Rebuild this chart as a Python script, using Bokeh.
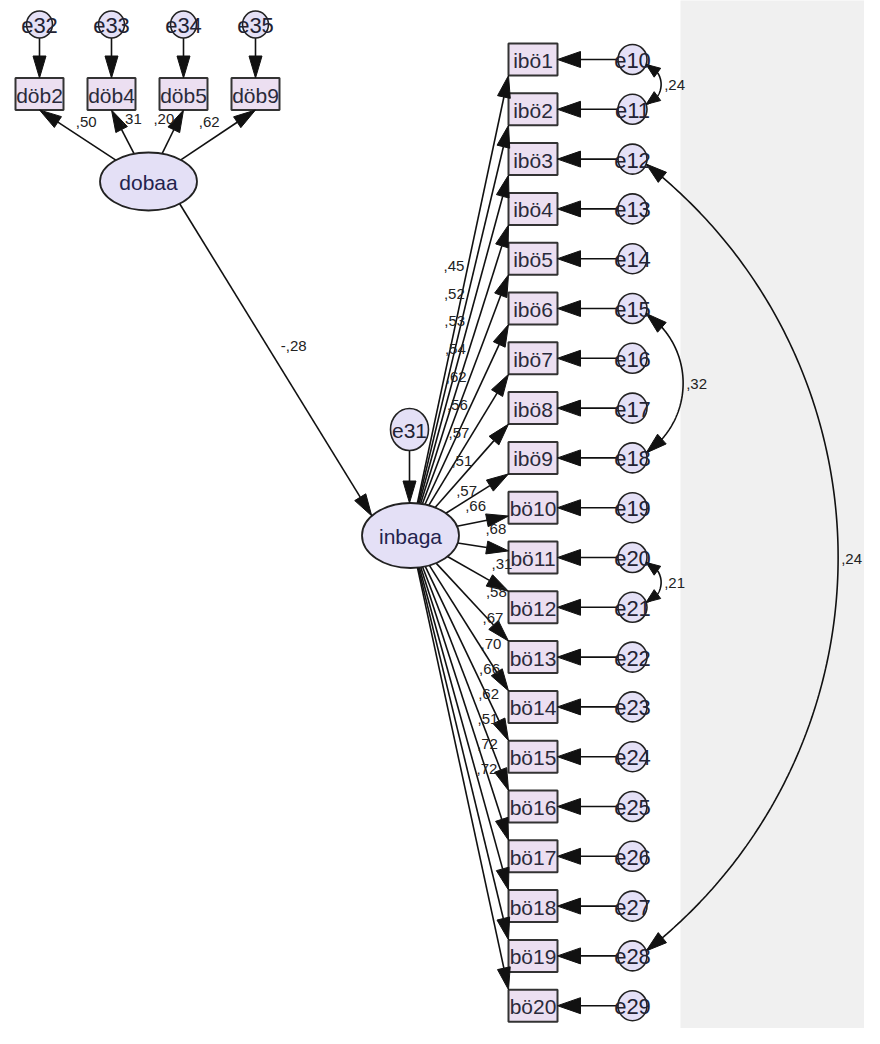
import numpy as np
from bokeh.plotting import figure
from bokeh.models import Range1d
from bokeh.embed import file_html
from bokeh.resources import INLINE
from bokeh.core.properties import value

# ---------------- data ----------------
dobaa_items = ["döb2", "döb4", "döb5", "döb9"]
dobaa_errors = ["e32", "e33", "e34", "e35"]
dobaa_loadings = [",50", ",31", ",20", ",62"]

inbaga_items = ["ibö1", "ibö2", "ibö3", "ibö4", "ibö5", "ibö6", "ibö7", "ibö8", "ibö9",
                "bö10", "bö11", "bö12", "bö13", "bö14", "bö15", "bö16", "bö17", "bö18",
                "bö19", "bö20"]
inbaga_errors = ["e10", "e11", "e12", "e13", "e14", "e15", "e16", "e17", "e18", "e19",
                 "e20", "e21", "e22", "e23", "e24", "e25", "e26", "e27", "e28", "e29"]
inbaga_loadings = [",45", ",52", ",53", ",54", ",62", ",56", ",57", ",51", ",57", ",66",
                   ",68", ",31", ",58", ",67", ",70", ",66", ",62", ",51", ",72", ",72"]

latent_names = ["dobaa", "inbaga"]
disturbance_name = "e31"
structural_label = "-,28"

cov_a = ["e10", "e15", "e20", "e12"]
cov_b = ["e11", "e18", "e21", "e28"]
cov_labels = [",24", ",32", ",21", ",24"]

# ---------------- layout / style ----------------
FONT = value("Liberation Sans")
INK = "#111111"
BOX_FILL = "#ecdff1"
OVAL_FILL = "#e4e0f6"
BOX_LINE = "#333333"

top_x0, top_dx = 39.0, 72.0
top_box_y, top_err_y = 93.5, 24.0
top_box_w, top_box_h = 48.0, 32.0
top_err_w, top_err_h = 26.0, 27.0

col_box_x, col_box_w, col_box_h = 532.5, 49.0, 32.0
col_y0, col_dy = 59.0, 49.8
col_err_x, col_err_w, col_err_h = 632.0, 29.0, 30.0

dob_c, dob_a, dob_b = np.array([148.0, 181.0]), 48.5, 29.0
inb_c, inb_a, inb_b = np.array([410.0, 535.0]), 48.5, 32.5
e31_c, e31_w, e31_h = np.array([409.0, 429.0]), 38.0, 42.0

cov_sag = {"e10": 15.0, "e15": 37.0, "e20": 15.0, "e12": 192.0}

lines_x, lines_y = [], []
heads_x, heads_y = [], []


def ell_pt(c, a, b, target):
    d = np.asarray(target, float) - c
    t = 1.0 / np.sqrt((d[0] / a) ** 2 + (d[1] / b) ** 2)
    return c + t * d


def ell_ang(c, a, b, deg):
    r = np.radians(deg)
    return c + np.array([a * np.cos(r), b * np.sin(r)])


def add_head(tip, tail, L=20.0, W=12.0):
    tip = np.asarray(tip, float)
    tail = np.asarray(tail, float)
    u = (tip - tail) / np.linalg.norm(tip - tail)
    base = tip - L * u
    n = np.array([-u[1], u[0]])
    p1 = base + n * W / 2
    p2 = base - n * W / 2
    heads_x.append([tip[0], p1[0], p2[0]])
    heads_y.append([tip[1], p1[1], p2[1]])
    return base


def add_arrow(p0, p1, L=20.0, W=12.0):
    base = add_head(p1, p0, L, W)
    lines_x.append([p0[0], base[0]])
    lines_y.append([p0[1], base[1]])


# ---------------- figure ----------------
p = figure(width=864, height=1028, x_range=Range1d(0, 864), y_range=Range1d(1028, 0),
           output_backend="svg", toolbar_location=None, min_border=0)
p.axis.visible = False
p.grid.visible = False
p.outline_line_color = None
p.background_fill_color = "white"
p.border_fill_color = "white"

p.quad(left=[680], right=[900], top=[-10], bottom=[1050], fill_color="#f0f0f0", line_color=None)

# --- dobaa block ---
top_x = [top_x0 + i * top_dx for i in range(len(dobaa_items))]
lab_tx, lab_ty = [], []
for i, x in enumerate(top_x):
    add_arrow((x, top_err_y + top_err_h / 2), (x, top_box_y - top_box_h / 2), L=22, W=13)
    tgt = np.array([x, top_box_y + top_box_h / 2])
    st = ell_pt(dob_c, dob_a, dob_b, tgt)
    add_arrow(st, tgt, L=22, W=13)
    mid = (st + tgt) / 2
    lab_tx.append(mid[0] + (8.5 if x < dob_c[0] else -9.0))
    lab_ty.append(mid[1] - 13)

# --- structural path ---
s0 = ell_ang(dob_c, dob_a, dob_b, 50)
s1 = ell_ang(inb_c, inb_a, inb_b, 217)
add_arrow(s0, s1, L=22, W=13)
smid = (s0 + s1) / 2
struct_x, struct_y = smid[0] + 18, smid[1] - 14

# --- disturbance ---
add_arrow((e31_c[0], e31_c[1] + e31_h / 2), (e31_c[0], inb_c[1] - inb_b), L=22, W=13)

# --- inbaga block ---
col_y = [col_y0 + k * col_dy for k in range(len(inbaga_items))]
box_left = col_box_x - col_box_w / 2
box_right = col_box_x + col_box_w / 2
in_lab_x, in_lab_y = [], []
for k, cy in enumerate(col_y):
    ty = cy + np.clip((inb_c[1] - cy) * 0.3, -col_box_h / 2, col_box_h / 2)
    tgt = np.array([box_left, ty])
    st = ell_pt(inb_c, inb_a, inb_b, tgt)
    add_arrow(st, tgt, L=22, W=13)
    if k < 9:
        t, off = 0.555, (-14, 0)
    elif k == 9:
        t, off = 0.4, (-2, -16)
    elif k == 10:
        t, off = 0.75, (0, -20)
    else:
        t, off = 0.5, (24, -10)
    pt = st + t * (tgt - st)
    in_lab_x.append(pt[0] + off[0])
    in_lab_y.append(pt[1] + off[1])
    add_arrow((col_err_x - col_err_w / 2, cy), (box_right, cy), L=23, W=16)

# --- covariance arcs ---
err_pos = {e: col_y[k] for k, e in enumerate(inbaga_errors)}
cov_lab_x, cov_lab_y = [], []
r_err = col_err_w / 2
for a_name, b_name in zip(cov_a, cov_b):
    ya, yb = err_pos[a_name], err_pos[b_name]
    ang = np.radians(20)
    p1 = np.array([col_err_x + r_err * np.cos(ang), ya + r_err * np.sin(ang)])
    p2 = np.array([col_err_x + r_err * np.cos(ang), yb - r_err * np.sin(ang)])
    s = cov_sag[a_name]
    c = np.linalg.norm(p2 - p1)
    u = (p2 - p1) / c
    n = np.array([u[1], -u[0]])
    R = (c * c / 4 + s * s) / (2 * s)
    m = (p1 + p2) / 2
    O = m + n * (s - R)
    a1 = np.arctan2(p1[1] - O[1], p1[0] - O[0])
    a2 = np.arctan2(p2[1] - O[1], p2[0] - O[0])
    angs = np.linspace(a1, a2, 200)
    ax = O[0] + R * np.cos(angs)
    ay = O[1] + R * np.sin(angs)
    lines_x.append(list(ax))
    lines_y.append(list(ay))
    small = s < 30
    L, W = (14, 11) if small else (21, 13)
    pts = np.column_stack([ax, ay])
    for tip, seq in ((pts[0], pts), (pts[-1], pts[::-1])):
        d = np.linalg.norm(seq - tip, axis=1)
        idx = int(np.argmax(d >= L))
        add_head(tip, seq[idx], L=L, W=W)
    apex = m + n * s
    cov_lab_x.append(apex[0] + 3)
    cov_lab_y.append(apex[1] + 1)

# ---------------- draw ----------------
p.multi_line(lines_x, lines_y, line_color=INK, line_width=1.6)

p.rect(x=top_x, y=[top_box_y] * len(top_x), width=top_box_w, height=top_box_h,
       fill_color=BOX_FILL, line_color=BOX_LINE, line_width=2)
p.rect(x=[col_box_x] * len(col_y), y=col_y, width=col_box_w, height=col_box_h,
       fill_color=BOX_FILL, line_color=BOX_LINE, line_width=2)

p.ellipse(x=[dob_c[0], inb_c[0]], y=[dob_c[1], inb_c[1]],
          width=[2 * dob_a, 2 * inb_a], height=[2 * dob_b, 2 * inb_b],
          fill_color=OVAL_FILL, line_color="#222222", line_width=1.8)
p.ellipse(x=[e31_c[0]], y=[e31_c[1]], width=e31_w, height=e31_h,
          fill_color=OVAL_FILL, line_color="#222222", line_width=1.6)
p.ellipse(x=top_x, y=[top_err_y] * len(top_x), width=top_err_w, height=top_err_h,
          fill_color=OVAL_FILL, line_color="#222222", line_width=1.6)
p.ellipse(x=[col_err_x] * len(col_y), y=col_y, width=col_err_w, height=col_err_h,
          fill_color=OVAL_FILL, line_color="#222222", line_width=1.6)

p.patches(heads_x, heads_y, fill_color=INK, line_color=INK, line_width=1)

TXT = dict(text_font=FONT, text_align="center", text_baseline="middle")
p.text(x=top_x, y=[top_box_y + 1] * len(top_x), text=dobaa_items,
       text_font_size="21px", text_color="#2a2a3a", **TXT)
p.text(x=[col_box_x] * len(col_y), y=[cy + 1 for cy in col_y], text=inbaga_items,
       text_font_size="21px", text_color="#2a2a3a", **TXT)
p.text(x=top_x, y=[top_err_y + 1] * len(top_x), text=dobaa_errors,
       text_font_size="22px", text_color="#222233", **TXT)
p.text(x=[col_err_x] * len(col_y), y=[cy + 1 for cy in col_y], text=inbaga_errors,
       text_font_size="22px", text_color="#222233", **TXT)
p.text(x=[e31_c[0]], y=[e31_c[1] + 1], text=[disturbance_name],
       text_font_size="21px", text_color="#222233", **TXT)
p.text(x=[dob_c[0], inb_c[0]], y=[dob_c[1] + 1, inb_c[1] + 1], text=latent_names,
       text_font_size="21px", text_color="#23234d", **TXT)

p.text(x=lab_tx, y=lab_ty, text=dobaa_loadings, text_font_size="15px",
       text_color="#222222", **TXT)
p.text(x=in_lab_x, y=in_lab_y, text=inbaga_loadings, text_font_size="15px",
       text_color="#222222", **TXT)
p.text(x=[struct_x], y=[struct_y], text=[structural_label], text_font_size="15px",
       text_color="#222222", **TXT)
p.text(x=cov_lab_x, y=cov_lab_y, text=cov_labels, text_font_size="15px",
       text_color="#222222", text_font=FONT, text_align="left", text_baseline="middle")

open("out.html", "w").write(file_html(p, INLINE))
